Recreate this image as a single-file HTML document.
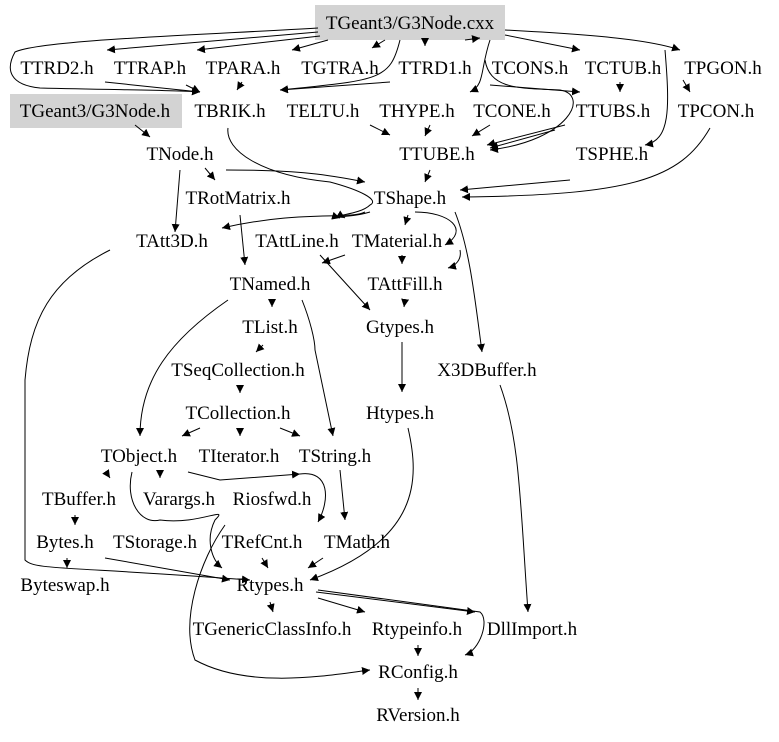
<!DOCTYPE html>
<html><head><meta charset="utf-8"><style>
html,body{margin:0;padding:0;background:#fff;}
svg text{font-family:"Liberation Serif",serif;font-size:19px;text-anchor:middle;fill:#000;}
</style></head><body>
<svg width="779" height="737" viewBox="0 0 779 737" xmlns="http://www.w3.org/2000/svg">
<defs><marker id="a" viewBox="0 0 10 10" refX="10" refY="5" markerWidth="8" markerHeight="8" orient="auto-start-reverse" markerUnits="userSpaceOnUse"><path d="M0,0L10,5L0,10z" fill="#000"/></marker></defs>
<rect x="315" y="5" width="190" height="35" fill="#d3d3d3"/>
<rect x="10" y="94" width="172" height="34" fill="#d3d3d3"/>
<g fill="none" stroke="#000" stroke-width="1" marker-end="url(#a)">
<path d="M318,28 C200,35 40,40 15,52 C5,70 10,85 40,88 C120,90 175,90 200,92"/>
<path d="M318,32 L107,50"/>
<path d="M320,36 L197,50"/>
<path d="M328,40 L292,50"/>
<path d="M385,40 L372,48"/>
<path d="M425,40 L425,46"/>
<path d="M465,40 L480,38"/>
<path d="M505,35 L580,50"/>
<path d="M505,30 C600,35 650,40 680,50"/>
<path d="M400,40 C390,80 380,80 280,90"/>
<path d="M490,40 C480,70 485,85 470,92"/>
<path d="M390,82 L280,90"/>
<path d="M485,60 C490,90 520,88 560,90 C590,95 570,140 490,150"/>
<path d="M490,85 L580,92"/>
<path d="M665,50 C670,110 670,140 645,145"/>
<path d="M683,80 L690,92"/>
<path d="M105,82 L200,92"/>
<path d="M186,85 L200,92"/>
<path d="M242,82 L237,90"/>
<path d="M620,82 L620,92"/>
<path d="M370,125 L390,135"/>
<path d="M430,125 L425,136"/>
<path d="M490,125 L472,136"/>
<path d="M565,125 L487,145"/>
<path d="M555,130 L490,148"/>
<path d="M135,125 L150,137"/>
<path d="M180,170 L175,232"/>
<path d="M205,168 L215,180"/>
<path d="M226,170 C300,170 330,175 365,182"/>
<path d="M228,128 C225,150 260,175 330,182 C360,190 380,200 370,205 C360,215 330,215 340,218"/>
<path d="M570,180 L460,190"/>
<path d="M710,128 C680,180 630,195 462,197"/>
<path d="M430,170 L425,182"/>
<path d="M365,212 C350,220 300,210 222,228"/>
<path d="M370,212 C350,218 340,215 345,218"/>
<path d="M408,215 L405,225"/>
<path d="M415,212 C450,212 470,230 445,245"/>
<path d="M455,212 C470,250 475,300 482,352"/>
<path d="M240,215 L245,265"/>
<path d="M345,255 L322,263"/>
<path d="M320,255 L370,310"/>
<path d="M402,255 L402,264"/>
<path d="M460,250 C462,260 455,266 448,268"/>
<path d="M110,250 C50,280 30,320 25,380 L25,560 C35,570 60,566 250,580"/>
<path d="M272,300 L272,307"/>
<path d="M302,300 C310,320 315,340 315,350 L333,436"/>
<path d="M228,300 C170,340 140,380 140,436"/>
<path d="M405,300 L404,307"/>
<path d="M402,342 L402,392"/>
<path d="M263,345 L256,352"/>
<path d="M240,385 L240,393"/>
<path d="M200,428 L182,436"/>
<path d="M240,428 L240,436"/>
<path d="M280,428 L300,436"/>
<path d="M500,385 C520,440 520,500 528,612"/>
<path d="M408,428 C420,480 420,540 310,580"/>
<path d="M188,472 L220,480 L300,474"/>
<path d="M300,474 C330,470 330,500 318,522"/>
<path d="M108,475 L110,478"/>
<path d="M160,475 L160,478"/>
<path d="M132,472 C125,500 140,525 160,520 C200,525 230,505 215,520 C205,540 212,560 222,568"/>
<path d="M340,470 L345,520"/>
<path d="M225,525 C200,560 180,620 195,660 C250,690 330,675 370,670"/>
<path d="M75,515 L75,525"/>
<path d="M67,558 L67,568"/>
<path d="M105,558 L230,580"/>
<path d="M262,558 L268,568"/>
<path d="M323,558 L308,568"/>
<path d="M270,602 L273,612"/>
<path d="M318,598 L365,612"/>
<path d="M318,590 L480,612 C490,620 480,650 465,655"/>
<path d="M316,592 L475,612"/>
<path d="M418,645 L418,656"/>
<path d="M418,688 L418,700"/>
</g>
<text x="410" y="29">TGeant3/G3Node.cxx</text>
<text x="57" y="74">TTRD2.h</text><text x="150" y="74">TTRAP.h</text><text x="243" y="74">TPARA.h</text><text x="340" y="74">TGTRA.h</text><text x="435" y="74">TTRD1.h</text><text x="530" y="74">TCONS.h</text><text x="623" y="74">TCTUB.h</text><text x="723" y="74">TPGON.h</text>
<text x="95" y="117">TGeant3/G3Node.h</text><text x="230" y="117">TBRIK.h</text><text x="323" y="117">TELTU.h</text><text x="417" y="117">THYPE.h</text><text x="512" y="117">TCONE.h</text><text x="613" y="117">TTUBS.h</text><text x="716" y="117">TPCON.h</text>
<text x="180" y="160">TNode.h</text><text x="437" y="160">TTUBE.h</text><text x="612" y="160">TSPHE.h</text>
<text x="238" y="204">TRotMatrix.h</text><text x="410" y="204">TShape.h</text>
<text x="172" y="247">TAtt3D.h</text><text x="297" y="247">TAttLine.h</text><text x="397" y="247">TMaterial.h</text>
<text x="270" y="290">TNamed.h</text><text x="405" y="290">TAttFill.h</text>
<text x="270" y="333">TList.h</text><text x="400" y="333">Gtypes.h</text>
<text x="238" y="376">TSeqCollection.h</text><text x="487" y="376">X3DBuffer.h</text>
<text x="238" y="419">TCollection.h</text><text x="400" y="419">Htypes.h</text>
<text x="139" y="462">TObject.h</text><text x="239" y="462">TIterator.h</text><text x="335" y="462">TString.h</text>
<text x="79" y="505">TBuffer.h</text><text x="179" y="505">Varargs.h</text><text x="272" y="505">Riosfwd.h</text>
<text x="65" y="548">Bytes.h</text><text x="155" y="548">TStorage.h</text><text x="262" y="548">TRefCnt.h</text><text x="357" y="548">TMath.h</text>
<text x="65" y="591">Byteswap.h</text><text x="270" y="591">Rtypes.h</text>
<text x="272" y="635">TGenericClassInfo.h</text><text x="417" y="635">Rtypeinfo.h</text><text x="532" y="635">DllImport.h</text>
<text x="418" y="678">RConfig.h</text>
<text x="418" y="721">RVersion.h</text>
</svg>
</body></html>
